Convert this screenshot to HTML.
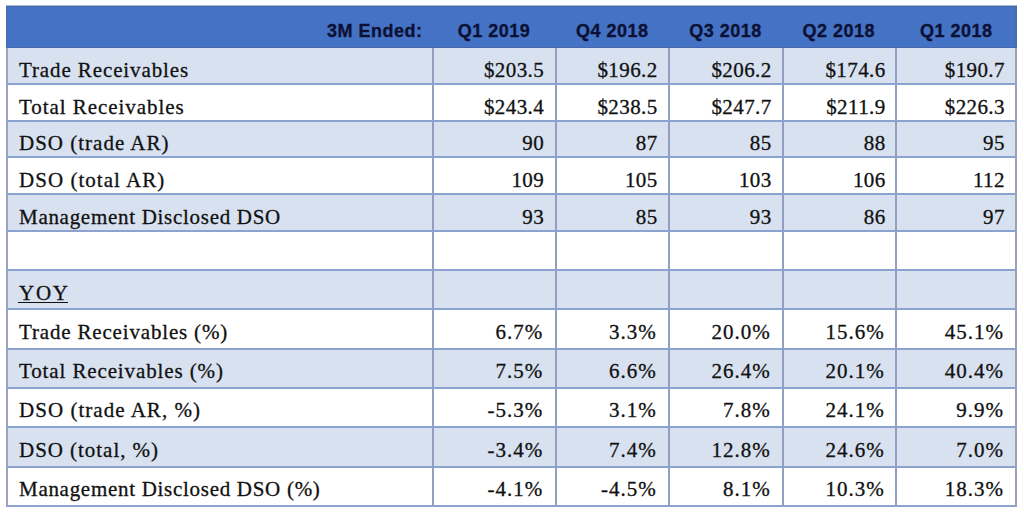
<!DOCTYPE html>
<html><head><meta charset="utf-8"><style>
html,body{margin:0;padding:0;background:#fff;width:1024px;height:519px;overflow:hidden}
.a{position:absolute}
.bg{position:absolute;left:6px;width:1011px}
.hl{position:absolute;left:6px;width:1011px;height:2px;background:#8ca2cf}
.vl{position:absolute;width:2px;background:#919fc0}
.t{position:absolute;font:21px/24px "Liberation Serif",serif;color:#111111;white-space:nowrap;height:24px;-webkit-text-stroke:0.3px #111}
.lb{left:19px}
.n{text-align:right;width:110px}
.h{position:absolute;top:18.5px;font:bold 18px/24px "Liberation Sans",sans-serif;color:#0c1134;white-space:nowrap;letter-spacing:0.5px;-webkit-text-stroke:0.3px #0c1134}
</style></head><body>

<div class="a" style="left:6px;top:5px;width:1011px;height:1px;background:#a9b9da"></div>
<div class="a" style="left:6px;top:6px;width:1011px;height:42px;box-sizing:border-box;background:#4472c4;border-top:1px solid #4668a6;border-left:1px solid #4a69a8;border-right:2px solid #4a6dac;border-bottom:1px solid #4569a8"></div>
<div class="bg" style="top:48px;height:35px;background:#d8e1f0"></div>
<div class="bg" style="top:85px;height:35px;background:#ffffff"></div>
<div class="bg" style="top:122px;height:34px;background:#d8e1f0"></div>
<div class="bg" style="top:158px;height:35px;background:#ffffff"></div>
<div class="bg" style="top:195px;height:35px;background:#d8e1f0"></div>
<div class="bg" style="top:232px;height:37px;background:#ffffff"></div>
<div class="bg" style="top:271px;height:37px;background:#d8e1f0"></div>
<div class="bg" style="top:310px;height:38px;background:#ffffff"></div>
<div class="bg" style="top:350px;height:37px;background:#d8e1f0"></div>
<div class="bg" style="top:389px;height:37px;background:#ffffff"></div>
<div class="bg" style="top:428px;height:38px;background:#d8e1f0"></div>
<div class="bg" style="top:468px;height:37px;background:#ffffff"></div>
<div class="vl" style="left:6px;top:48px;height:459px;background:#9ea3c3"></div>
<div class="vl" style="left:432px;top:48px;height:459px"></div>
<div class="vl" style="left:555px;top:48px;height:459px"></div>
<div class="vl" style="left:668px;top:48px;height:459px"></div>
<div class="vl" style="left:782px;top:48px;height:459px"></div>
<div class="vl" style="left:895px;top:48px;height:459px"></div>
<div class="vl" style="left:1015px;top:48px;height:459px;background:#98a2ae"></div>
<div class="hl" style="top:83px"></div>
<div class="hl" style="top:120px"></div>
<div class="hl" style="top:156px"></div>
<div class="hl" style="top:193px"></div>
<div class="hl" style="top:230px"></div>
<div class="hl" style="top:269px"></div>
<div class="hl" style="top:308px"></div>
<div class="hl" style="top:348px"></div>
<div class="hl" style="top:387px"></div>
<div class="hl" style="top:426px"></div>
<div class="hl" style="top:466px"></div>
<div class="hl" style="top:505px"></div>
<div class="h" style="right:601.5px">3M Ended:</div>
<div class="h" style="left:434px;width:120px;text-align:center">Q1 2019</div>
<div class="h" style="left:552.3px;width:120px;text-align:center">Q4 2018</div>
<div class="h" style="left:665.6px;width:120px;text-align:center">Q3 2018</div>
<div class="h" style="left:778.8px;width:120px;text-align:center">Q2 2018</div>
<div class="h" style="left:896.3px;width:120px;text-align:center">Q1 2018</div>
<div class="t lb" style="top:58px;letter-spacing:0.89px">Trade Receivables</div>
<div class="t n" style="top:58px;left:434.1px;letter-spacing:0.4px">$203.5</div>
<div class="t n" style="top:58px;left:547.6px;letter-spacing:0.4px">$196.2</div>
<div class="t n" style="top:58px;left:661.6px;letter-spacing:0.4px">$206.2</div>
<div class="t n" style="top:58px;left:775.6px;letter-spacing:0.4px">$174.6</div>
<div class="t n" style="top:58px;left:894.9px;letter-spacing:0.4px">$190.7</div>
<div class="t lb" style="top:95px;letter-spacing:0.94px">Total Receivables</div>
<div class="t n" style="top:95px;left:434.1px;letter-spacing:0.4px">$243.4</div>
<div class="t n" style="top:95px;left:547.6px;letter-spacing:0.4px">$238.5</div>
<div class="t n" style="top:95px;left:661.6px;letter-spacing:0.4px">$247.7</div>
<div class="t n" style="top:95px;left:775.6px;letter-spacing:0.4px">$211.9</div>
<div class="t n" style="top:95px;left:894.9px;letter-spacing:0.4px">$226.3</div>
<div class="t lb" style="top:131px;letter-spacing:1.0px">DSO (trade AR)</div>
<div class="t n" style="top:131px;left:434.1px;letter-spacing:0.4px">90</div>
<div class="t n" style="top:131px;left:547.6px;letter-spacing:0.4px">87</div>
<div class="t n" style="top:131px;left:661.6px;letter-spacing:0.4px">85</div>
<div class="t n" style="top:131px;left:775.6px;letter-spacing:0.4px">88</div>
<div class="t n" style="top:131px;left:894.9px;letter-spacing:0.4px">95</div>
<div class="t lb" style="top:168px;letter-spacing:1.03px">DSO (total AR)</div>
<div class="t n" style="top:168px;left:434.1px;letter-spacing:0.4px">109</div>
<div class="t n" style="top:168px;left:547.6px;letter-spacing:0.4px">105</div>
<div class="t n" style="top:168px;left:661.6px;letter-spacing:0.4px">103</div>
<div class="t n" style="top:168px;left:775.6px;letter-spacing:0.4px">106</div>
<div class="t n" style="top:168px;left:894.9px;letter-spacing:0.4px">112</div>
<div class="t lb" style="top:205px;letter-spacing:0.71px">Management Disclosed DSO</div>
<div class="t n" style="top:205px;left:434.1px;letter-spacing:0.4px">93</div>
<div class="t n" style="top:205px;left:547.6px;letter-spacing:0.4px">85</div>
<div class="t n" style="top:205px;left:661.6px;letter-spacing:0.4px">93</div>
<div class="t n" style="top:205px;left:775.6px;letter-spacing:0.4px">86</div>
<div class="t n" style="top:205px;left:894.9px;letter-spacing:0.4px">97</div>
<div class="t lb" style="top:281px;letter-spacing:1.75px">YOY</div>
<div class="a" style="left:18px;top:302px;width:50px;height:1px;background:#111"></div>
<div class="t lb" style="top:320px;letter-spacing:0.83px">Trade Receivables (%)</div>
<div class="t n" style="top:320px;left:433.2px;letter-spacing:1.0px">6.7%</div>
<div class="t n" style="top:320px;left:546.7px;letter-spacing:1.0px">3.3%</div>
<div class="t n" style="top:320px;left:660.7px;letter-spacing:1.0px">20.0%</div>
<div class="t n" style="top:320px;left:774.7px;letter-spacing:1.0px">15.6%</div>
<div class="t n" style="top:320px;left:894.0px;letter-spacing:1.0px">45.1%</div>
<div class="t lb" style="top:359px;letter-spacing:0.88px">Total Receivables (%)</div>
<div class="t n" style="top:359px;left:433.2px;letter-spacing:1.0px">7.5%</div>
<div class="t n" style="top:359px;left:546.7px;letter-spacing:1.0px">6.6%</div>
<div class="t n" style="top:359px;left:660.7px;letter-spacing:1.0px">26.4%</div>
<div class="t n" style="top:359px;left:774.7px;letter-spacing:1.0px">20.1%</div>
<div class="t n" style="top:359px;left:894.0px;letter-spacing:1.0px">40.4%</div>
<div class="t lb" style="top:398px;letter-spacing:1.03px">DSO (trade AR, %)</div>
<div class="t n" style="top:398px;left:433.2px;letter-spacing:1.0px">-5.3%</div>
<div class="t n" style="top:398px;left:546.7px;letter-spacing:1.0px">3.1%</div>
<div class="t n" style="top:398px;left:660.7px;letter-spacing:1.0px">7.8%</div>
<div class="t n" style="top:398px;left:774.7px;letter-spacing:1.0px">24.1%</div>
<div class="t n" style="top:398px;left:894.0px;letter-spacing:1.0px">9.9%</div>
<div class="t lb" style="top:438px;letter-spacing:0.96px">DSO (total, %)</div>
<div class="t n" style="top:438px;left:433.2px;letter-spacing:1.0px">-3.4%</div>
<div class="t n" style="top:438px;left:546.7px;letter-spacing:1.0px">7.4%</div>
<div class="t n" style="top:438px;left:660.7px;letter-spacing:1.0px">12.8%</div>
<div class="t n" style="top:438px;left:774.7px;letter-spacing:1.0px">24.6%</div>
<div class="t n" style="top:438px;left:894.0px;letter-spacing:1.0px">7.0%</div>
<div class="t lb" style="top:477px;letter-spacing:0.71px">Management Disclosed DSO (%)</div>
<div class="t n" style="top:477px;left:433.2px;letter-spacing:1.0px">-4.1%</div>
<div class="t n" style="top:477px;left:546.7px;letter-spacing:1.0px">-4.5%</div>
<div class="t n" style="top:477px;left:660.7px;letter-spacing:1.0px">8.1%</div>
<div class="t n" style="top:477px;left:774.7px;letter-spacing:1.0px">10.3%</div>
<div class="t n" style="top:477px;left:894.0px;letter-spacing:1.0px">18.3%</div>
</body></html>
